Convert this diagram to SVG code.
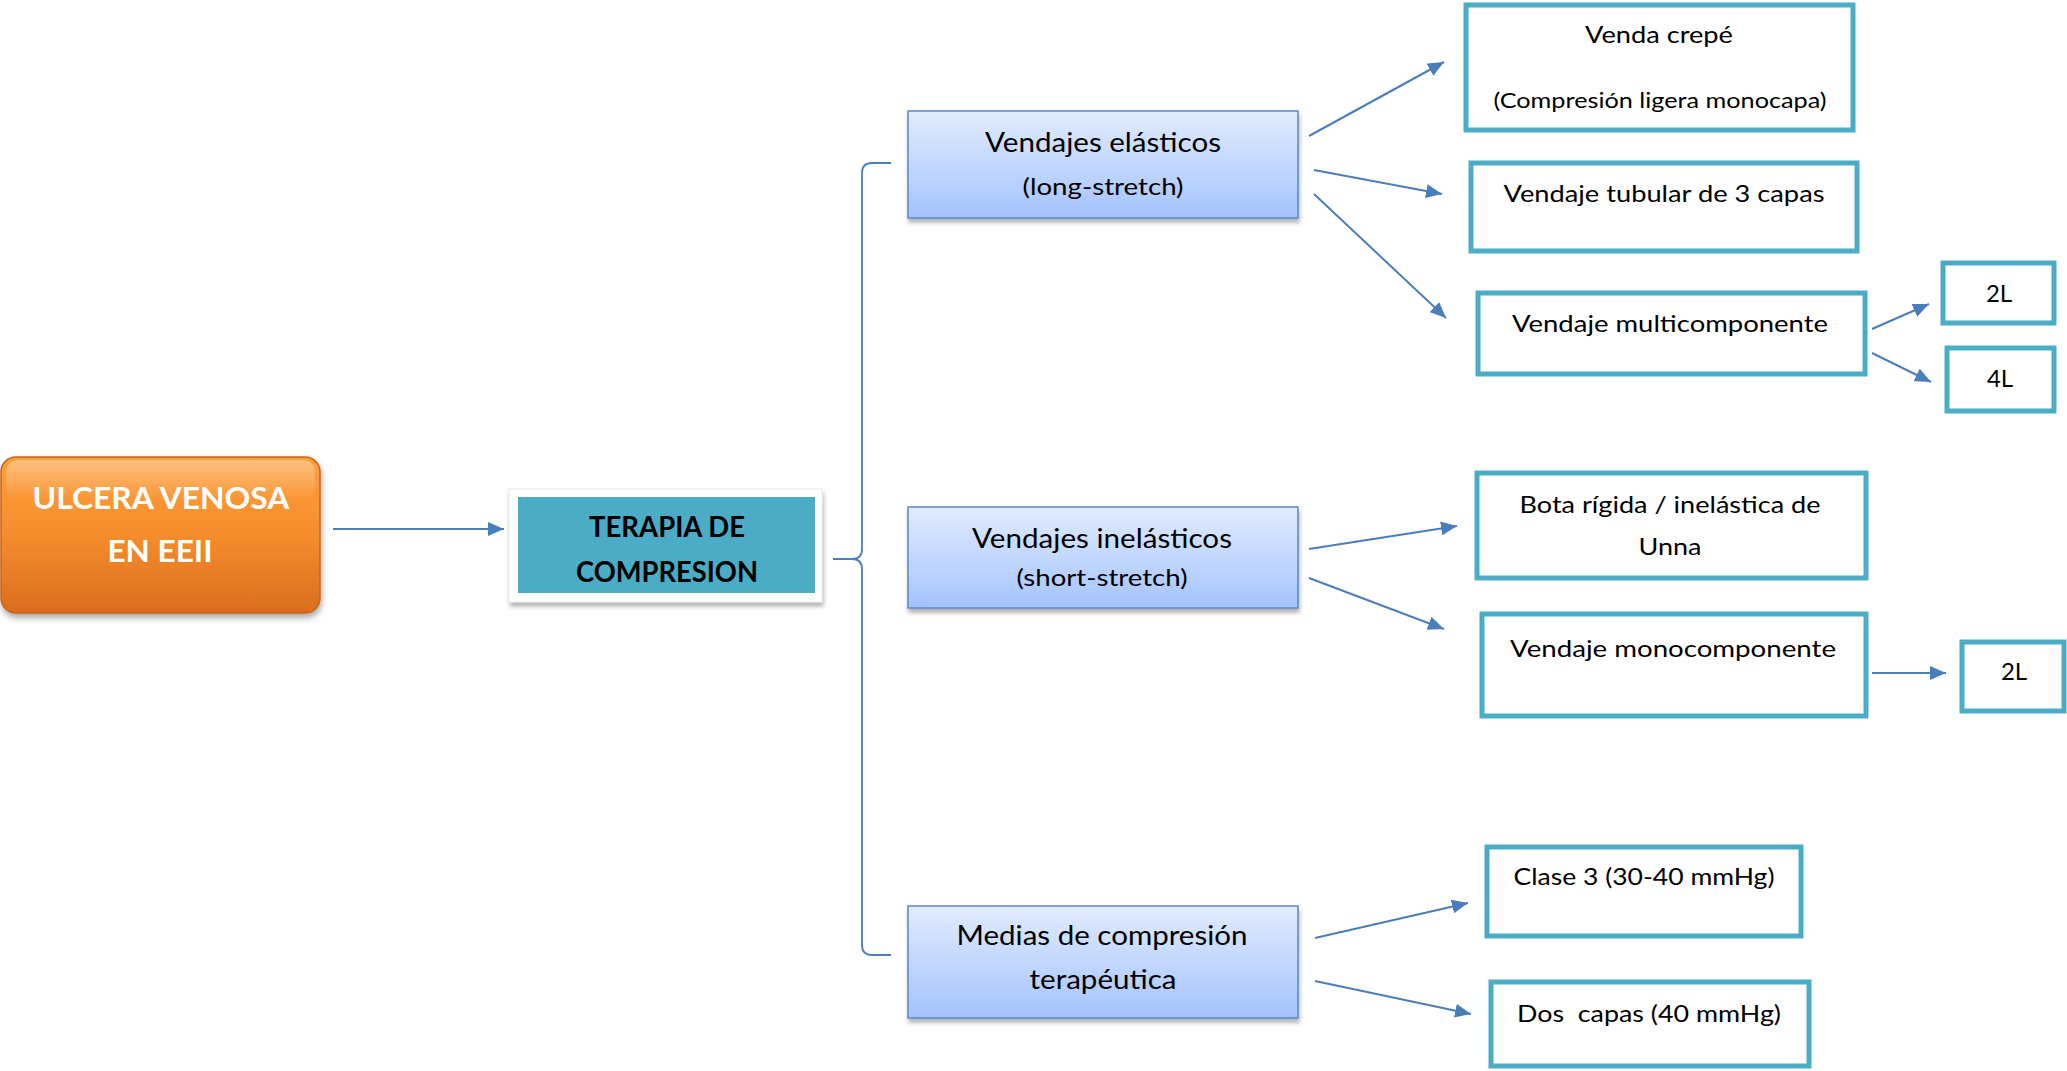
<svg xmlns="http://www.w3.org/2000/svg" width="2067" height="1071" viewBox="0 0 2067 1071">
<defs>
<linearGradient id="gOrange" x1="0" y1="0" x2="0" y2="1">
<stop offset="0" stop-color="#FF9F3C"/>
<stop offset="0.5" stop-color="#F68D2D"/>
<stop offset="1" stop-color="#DA6D1E"/>
</linearGradient>
<linearGradient id="gHi" x1="0" y1="0" x2="0" y2="1">
<stop offset="0" stop-color="#fff" stop-opacity="0.35"/>
<stop offset="1" stop-color="#fff" stop-opacity="0"/>
</linearGradient>
<linearGradient id="gBlue" x1="0" y1="0" x2="0" y2="1">
<stop offset="0" stop-color="#E1ECFE"/>
<stop offset="1" stop-color="#A4C3FD"/>
</linearGradient>
<filter id="shadow" x="-10%" y="-10%" width="120%" height="130%">
<feDropShadow dx="1" dy="4" stdDeviation="2" flood-color="#000" flood-opacity="0.3"/>
</filter>
<filter id="shadowO" x="-10%" y="-10%" width="120%" height="130%">
<feDropShadow dx="1" dy="4" stdDeviation="3" flood-color="#000" flood-opacity="0.35"/>
</filter>
<marker id="arr" markerUnits="userSpaceOnUse" markerWidth="17" markerHeight="14" refX="16" refY="7" orient="auto">
<path d="M0,0 L16,7 L0,14 z" fill="#4A7EBB"/>
</marker>
<style>
text { font-family: Lato, "Open Sans", "Liberation Sans", sans-serif; fill: #000; }
.w { fill: #fff; font-weight: bold; }
.b { font-weight: bold; }
.blue { fill: url(#gBlue); stroke: #5A87C6; stroke-width: 1.5; filter: url(#shadow); }
.teal { fill: #fff; stroke: #4BACC6; stroke-width: 5; }
.conn line { stroke: #4A7EBB; stroke-width: 2; marker-end: url(#arr); }
.brace { fill: none; stroke: #4A7EBB; stroke-width: 1.8; }
</style>
</defs>

<g id="connectors">
<path class="brace" d="M891,163 L872,163 Q862,163 862,173 L862,549 Q862,559 852,559 L833,559 M852,559 Q862,559 862,569 L862,945 Q862,955 872,955 L891,955"/>
<g class="conn">
<line x1="333" y1="529" x2="504" y2="529"/>
<line x1="1309" y1="136" x2="1444" y2="62"/>
<line x1="1314" y1="170" x2="1442" y2="194"/>
<line x1="1314" y1="194" x2="1446" y2="318"/>
<line x1="1872" y1="329" x2="1929" y2="304"/>
<line x1="1872" y1="353" x2="1931" y2="382"/>
<line x1="1309" y1="549" x2="1457" y2="526"/>
<line x1="1309" y1="578" x2="1444" y2="629"/>
<line x1="1872" y1="673" x2="1946" y2="673"/>
<line x1="1315" y1="938" x2="1468" y2="903"/>
<line x1="1315" y1="981" x2="1471" y2="1014"/>
</g>
</g>

<g id="n-ulcera">
<rect x="1" y="457" width="319" height="156" rx="15" fill="url(#gOrange)" stroke="#C8651E" stroke-width="1.5" filter="url(#shadowO)"/>
<rect x="6" y="460" width="309" height="40" rx="12" fill="url(#gHi)"/>
<text class="w" x="161" y="509" font-size="30" text-anchor="middle" textLength="257" lengthAdjust="spacingAndGlyphs">ULCERA VENOSA</text>
<text class="w" x="160" y="562" font-size="30" text-anchor="middle" textLength="105" lengthAdjust="spacingAndGlyphs">EN EEII</text>
</g>

<g id="n-terapia">
<rect x="509" y="489" width="313" height="113" fill="#fff" stroke="#E6E6E6" stroke-width="1" filter="url(#shadow)"/>
<rect x="518" y="497" width="297" height="96" fill="#4BACC6"/>
<text class="b" x="667" y="537" font-size="28" text-anchor="middle" textLength="156" lengthAdjust="spacingAndGlyphs">TERAPIA DE</text>
<text class="b" x="667" y="582" font-size="28" text-anchor="middle" textLength="182" lengthAdjust="spacingAndGlyphs">COMPRESION</text>
</g>

<g id="n-elasticos">
<rect class="blue" x="908" y="111" width="390" height="107"/>
<text x="1103" y="152" font-size="27" text-anchor="middle" textLength="236" lengthAdjust="spacingAndGlyphs">Vendajes elásticos</text>
<text x="1103" y="195" font-size="23" text-anchor="middle" textLength="161" lengthAdjust="spacingAndGlyphs">(long-stretch)</text>
</g>

<g id="n-inelasticos">
<rect class="blue" x="908" y="507" width="390" height="101"/>
<text x="1102" y="548" font-size="27" text-anchor="middle" textLength="260" lengthAdjust="spacingAndGlyphs">Vendajes inelásticos</text>
<text x="1102" y="586" font-size="23" text-anchor="middle" textLength="171" lengthAdjust="spacingAndGlyphs">(short-stretch)</text>
</g>

<g id="n-medias">
<rect class="blue" x="908" y="906" width="390" height="112"/>
<text x="1102" y="945" font-size="27" text-anchor="middle" textLength="291" lengthAdjust="spacingAndGlyphs">Medias de compresión</text>
<text x="1103" y="989" font-size="27" text-anchor="middle" textLength="147" lengthAdjust="spacingAndGlyphs">terapéutica</text>
</g>

<g id="n-crepe">
<rect class="teal" x="1466" y="5" width="387" height="125"/>
<text x="1659" y="43" font-size="24" text-anchor="middle" textLength="148" lengthAdjust="spacingAndGlyphs">Venda crepé</text>
<text x="1660" y="108" font-size="21" text-anchor="middle" textLength="333" lengthAdjust="spacingAndGlyphs">(Compresión ligera monocapa)</text>
</g>

<g id="n-tubular">
<rect class="teal" x="1471" y="163" width="386" height="88"/>
<text x="1664" y="202" font-size="24" text-anchor="middle" textLength="321" lengthAdjust="spacingAndGlyphs">Vendaje tubular de 3 capas</text>
</g>

<g id="n-multi">
<rect class="teal" x="1478" y="293" width="387" height="81"/>
<text x="1670" y="332" font-size="24" text-anchor="middle" textLength="316" lengthAdjust="spacingAndGlyphs">Vendaje multicomponente</text>
</g>

<g id="n-2L-a">
<rect class="teal" x="1943" y="263" width="111" height="60"/>
<text x="1999" y="302" font-size="24" text-anchor="middle">2L</text>
</g>

<g id="n-4L">
<rect class="teal" x="1947" y="348" width="107" height="63"/>
<text x="2000" y="387" font-size="24" text-anchor="middle">4L</text>
</g>

<g id="n-bota">
<rect class="teal" x="1477" y="473" width="389" height="105"/>
<text x="1670" y="513" font-size="24" text-anchor="middle" textLength="301" lengthAdjust="spacingAndGlyphs">Bota rígida / inelástica de</text>
<text x="1670" y="555" font-size="24" text-anchor="middle" textLength="63" lengthAdjust="spacingAndGlyphs">Unna</text>
</g>

<g id="n-mono">
<rect class="teal" x="1482" y="614" width="384" height="102"/>
<text x="1673" y="657" font-size="24" text-anchor="middle" textLength="326" lengthAdjust="spacingAndGlyphs">Vendaje monocomponente</text>
</g>

<g id="n-2L-b">
<rect class="teal" x="1962" y="642" width="102" height="69"/>
<text x="2014" y="680" font-size="24" text-anchor="middle">2L</text>
</g>

<g id="n-clase3">
<rect class="teal" x="1487" y="847" width="314" height="89"/>
<text x="1644" y="885" font-size="24" text-anchor="middle" textLength="261" lengthAdjust="spacingAndGlyphs">Clase 3 (30-40 mmHg)</text>
</g>

<g id="n-doscapas">
<rect class="teal" x="1491" y="982" width="318" height="84"/>
<text x="1649" y="1022" font-size="24" text-anchor="middle" textLength="264" lengthAdjust="spacingAndGlyphs" xml:space="preserve">Dos  capas (40 mmHg)</text>
</g>
</svg>
